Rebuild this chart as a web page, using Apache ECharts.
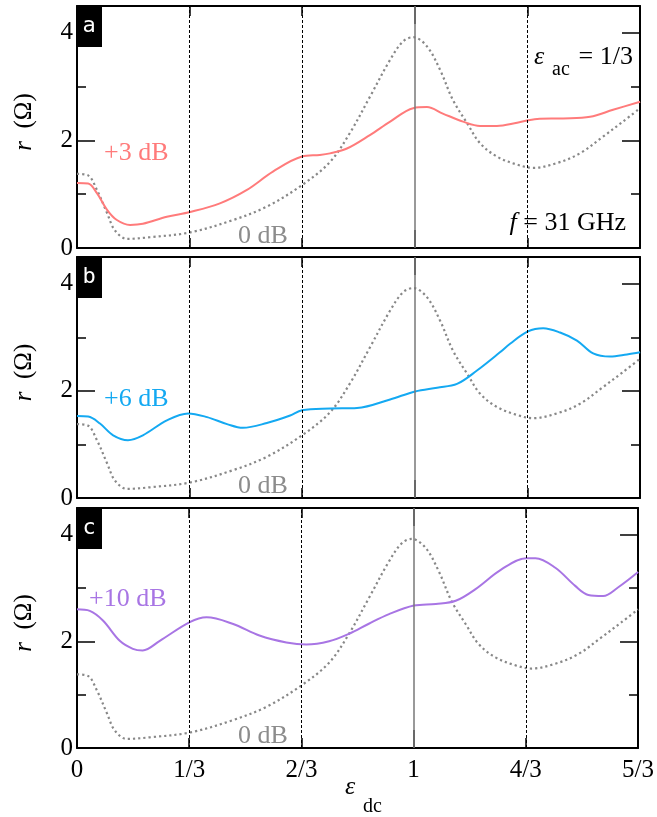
<!DOCTYPE html>
<html>
<head>
<meta charset="utf-8">
<script src="https://cdn.jsdelivr.net/npm/echarts@6/dist/echarts.min.js"></script>
<style>
html,body{margin:0;padding:0;background:#fff;}
#chart{width:657px;height:817px;}
</style>
</head>
<body>
<div id="chart"></div>
<script>
// ---- data (x in units of epsilon_dc, r in Ohm) ----
const xTickLabels = ['0', '1/3', '2/3', '1', '4/3', '5/3'];
const yTickValues = [0, 2, 4];

const eps0dB = [0, 0.033, 0.059, 0.089, 0.112, 0.148, 0.216, 0.335, 0.462, 0.562, 0.666, 0.749, 0.808, 0.867, 0.927, 0.965, 0.995, 1.036, 1.075, 1.113, 1.155, 1.193, 1.243, 1.303, 1.350, 1.421, 1.489, 1.557, 1.616, 1.667];
const r0dB   = [1.38, 1.35, 1.08, 0.65, 0.33, 0.17, 0.20, 0.29, 0.52, 0.77, 1.17, 1.60, 2.14, 2.81, 3.50, 3.84, 3.92, 3.75, 3.31, 2.75, 2.32, 1.95, 1.70, 1.55, 1.49, 1.58, 1.76, 2.07, 2.35, 2.60];

const eps3dB = [0, 0.033, 0.059, 0.089, 0.118, 0.157, 0.195, 0.266, 0.335, 0.423, 0.503, 0.580, 0.666, 0.719, 0.749, 0.799, 0.867, 0.927, 0.995, 1.036, 1.083, 1.143, 1.193, 1.243, 1.303, 1.362, 1.439, 1.519, 1.587, 1.667];
const r3dB   = [1.21, 1.20, 1.02, 0.71, 0.52, 0.43, 0.45, 0.58, 0.67, 0.83, 1.08, 1.42, 1.70, 1.73, 1.76, 1.85, 2.10, 2.35, 2.60, 2.62, 2.50, 2.35, 2.27, 2.27, 2.33, 2.40, 2.41, 2.44, 2.57, 2.72];

const eps6dB = [0, 0.033, 0.068, 0.107, 0.151, 0.195, 0.266, 0.329, 0.385, 0.444, 0.491, 0.562, 0.631, 0.666, 0.749, 0.829, 0.927, 1.001, 1.066, 1.125, 1.184, 1.252, 1.282, 1.335, 1.380, 1.430, 1.480, 1.528, 1.578, 1.628, 1.667];
const r6dB   = [1.53, 1.52, 1.39, 1.17, 1.08, 1.17, 1.45, 1.58, 1.51, 1.38, 1.31, 1.40, 1.54, 1.64, 1.67, 1.68, 1.84, 1.99, 2.06, 2.13, 2.38, 2.72, 2.88, 3.11, 3.17, 3.09, 2.94, 2.70, 2.64, 2.68, 2.72];

const eps10dB = [0, 0.038, 0.077, 0.127, 0.166, 0.195, 0.246, 0.335, 0.385, 0.462, 0.542, 0.622, 0.681, 0.749, 0.808, 0.867, 0.927, 1.001, 1.066, 1.125, 1.184, 1.261, 1.335, 1.362, 1.421, 1.480, 1.519, 1.563, 1.607, 1.667];
const r10dB   = [2.60, 2.57, 2.39, 2.01, 1.86, 1.83, 2.01, 2.36, 2.45, 2.33, 2.11, 1.98, 1.94, 2.00, 2.14, 2.33, 2.51, 2.67, 2.70, 2.76, 2.98, 3.35, 3.56, 3.56, 3.38, 3.04, 2.87, 2.85, 3.01, 3.30];

const panels = [
  {letter: 'a', label: '+3 dB',  eps: eps3dB,  r: r3dB,  color: '#ff7b7b'},
  {letter: 'b', label: '+6 dB',  eps: eps6dB,  r: r6dB,  color: '#14a9f2'},
  {letter: 'c', label: '+10 dB', eps: eps10dB, r: r10dB, color: '#a875e4'}
];

// ---- layout ----
const SERIF = 'Liberation Serif';
const MONO = 'DejaVu Sans Mono';
const gridsPos = [{top: 6, height: 242}, {top: 257, height: 241}, {top: 508, height: 240}];
const GL = 77, GW = 563;

const toPts = (eps, r) => eps.map((e, i) => [e * 3, r[i]]); // axis in thirds of eps_dc

const grid = [], xAxis = [], yAxis = [], series = [], graphic = [];
const txt = (x, y, text, size, color, opts) => Object.assign({
  type: 'text', x, y, z: 100,
  style: Object.assign({text, fill: color, fontFamily: SERIF, fontSize: size, align: 'left', verticalAlign: 'middle'}, opts || {})
});

gridsPos.forEach((gp, g) => {
  grid.push({left: GL, width: GW, top: gp.top, height: gp.height});
  const xBase = {gridIndex: g, type: 'value', min: 0, max: 5, interval: 1, splitLine: {show: false}};
  const mkX = (pos, line, ticks, len, labels) => Object.assign({}, xBase, {
    position: pos,
    axisLine: {show: line, onZero: false, lineStyle: {color: '#000', width: 2}},
    axisTick: {show: true, inside: true, length: len, customValues: ticks, lineStyle: {color: '#000', width: 1.5}},
    axisLabel: labels ? {show: true, margin: 10, color: '#000', fontFamily: SERIF, fontSize: 25,
      formatter: v => xTickLabels[Math.round(v)]} : {show: false}
  });
  const xi = xAxis.length;
  xAxis.push(mkX('bottom', true, [1, 2, 4, 5], 10, g === 2));
  xAxis.push(mkX('bottom', false, [0, 3], 18, false));
  xAxis.push(mkX('top', true, [1, 2, 4, 5], 10, false));
  xAxis.push(mkX('top', false, [0, 3], 18, false));

  const yBase = {gridIndex: g, type: 'value', min: 0, max: 4.5, splitLine: {show: false}};
  const mkY = (pos, line, ticks, len, labels) => Object.assign({}, yBase, {
    position: pos,
    axisLine: {show: line, onZero: false, lineStyle: {color: '#000', width: 2}},
    axisTick: {show: true, inside: true, length: len, customValues: ticks, lineStyle: {color: '#000', width: 1.5}},
    axisLabel: labels ? {show: true, margin: 4, color: '#000', fontFamily: SERIF, fontSize: 25, customValues: yTickValues} : {show: false}
  });
  const yi = yAxis.length;
  const yMain = mkY('left', true, [0, 2, 4], 18, true);
  yMain.name = '{i|r}  (Ω)';
  yMain.nameLocation = 'middle';
  yMain.nameGap = 40;
  yMain.nameRotate = 90;
  yMain.nameTextStyle = {color: '#000', fontFamily: SERIF, fontSize: 25, padding: [0, 0, 0, 10],
    rich: {i: {fontStyle: 'italic', fontFamily: SERIF, fontSize: 25, color: '#000'}}};
  yAxis.push(yMain);
  yAxis.push(mkY('left', false, [1, 3], 9, false));
  yAxis.push(mkY('right', true, [2, 4], 18, false));
  yAxis.push(mkY('right', false, [1, 3], 9, false));

  series.push({
    type: 'line', xAxisIndex: xi, yAxisIndex: yi, data: toPts(eps0dB, r0dB),
    smooth: 0.35, showSymbol: false, silent: true, z: 2,
    lineStyle: {color: '#888', width: 2.2, type: [2.2, 3]},
    markLine: {
      silent: true, symbol: 'none', label: {show: false}, animation: false,
      data: [
        {xAxis: 1, lineStyle: {color: '#000', width: 1, type: [3, 2]}},
        {xAxis: 2, lineStyle: {color: '#000', width: 1, type: [3, 2]}},
        {xAxis: 4, lineStyle: {color: '#000', width: 1, type: [3, 2]}},
        {xAxis: 3, lineStyle: {color: '#777', width: 1.5, type: 'solid'}}
      ]
    }
  });
  const p = panels[g];
  series.push({
    type: 'line', xAxisIndex: xi, yAxisIndex: yi, data: toPts(p.eps, p.r),
    smooth: 0.35, showSymbol: false, silent: true, z: 3,
    lineStyle: {color: p.color, width: 2}
  });

  // panel letter box
  graphic.push({type: 'rect', shape: {x: 76, y: gp.top, width: 26, height: 41}, style: {fill: '#000'}, z: 100});
  graphic.push(txt(89, gp.top + 20, p.letter, 22, '#fff', {fontFamily: MONO, align: 'center'}));
  // curve labels
  const bottom = gp.top + gp.height;
  graphic.push(txt(g === 2 ? 89 : 104, [153, 399, 599][g], p.label, 26, p.color));
  graphic.push(txt(238, bottom - 12, '0 dB', 26, '#8c8c8c'));
});

// panel a annotations
graphic.push(txt(534, 57, 'ε', 26, '#000', {fontStyle: 'italic'}));
graphic.push(txt(552, 70, 'ac', 20, '#000'));
graphic.push(txt(633, 57, '= 1/3', 26, '#000', {align: 'right'}));
graphic.push(txt(626, 223, '{i|f} = 31 GHz', 26, '#000', {align: 'right',
  rich: {i: {fontStyle: 'italic', fontFamily: SERIF, fontSize: 26, fill: '#000'}}}));
// x axis name
graphic.push(txt(345, 787, 'ε', 26, '#000', {fontStyle: 'italic'}));
graphic.push(txt(363, 807, 'dc', 20, '#000'));

const chart = echarts.init(document.getElementById('chart'), null, {renderer: 'canvas'});
chart.setOption({
  animation: false,
  backgroundColor: '#fff',
  textStyle: {fontFamily: SERIF},
  grid, xAxis, yAxis, series, graphic
});
</script>
</body>
</html>
